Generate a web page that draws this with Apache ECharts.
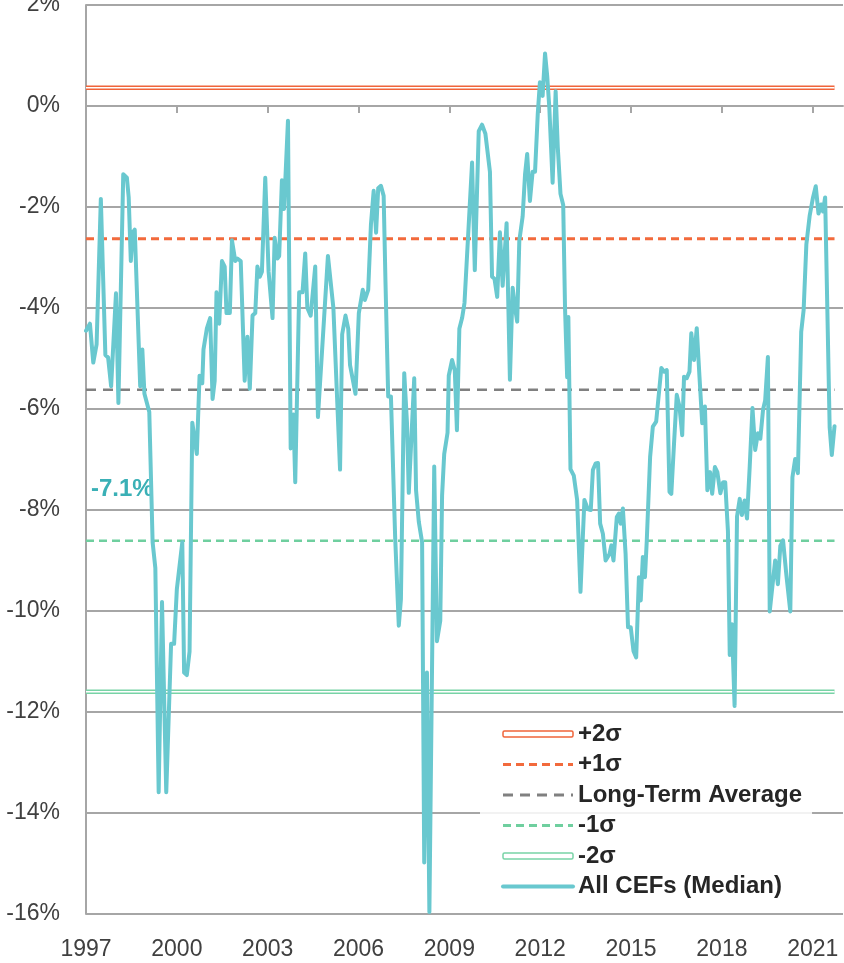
<!DOCTYPE html>
<html>
<head>
<meta charset="utf-8">
<script src="https://cdn.jsdelivr.net/npm/echarts@6.0.0/dist/echarts.min.js"></script>
<style>
  html, body { margin: 0; padding: 0; background: #fff; }
  #chart { width: 844px; height: 963px; }
</style>
</head>
<body>
<div id="chart"></div>
<script>
// median CEF discount (decimal year, %)
const years = [
  1997.00, 1997.13, 1997.24, 1997.35, 1997.49, 1997.64, 1997.73, 1997.83, 1997.99, 1998.07,
  1998.23, 1998.35, 1998.41, 1998.48, 1998.54, 1998.61, 1998.79, 1998.86, 1998.93, 1999.09,
  1999.20, 1999.29, 1999.40, 1999.51, 1999.65, 1999.81, 1999.91, 2000.00, 2000.18, 2000.24,
  2000.33, 2000.42, 2000.51, 2000.66, 2000.75, 2000.84, 2000.88, 2000.99, 2001.10, 2001.18,
  2001.25, 2001.31, 2001.40, 2001.49, 2001.58, 2001.64, 2001.75, 2001.82, 2001.93, 2002.00,
  2002.11, 2002.24, 2002.33, 2002.41, 2002.50, 2002.59, 2002.66, 2002.74, 2002.81, 2002.92,
  2003.03, 2003.16, 2003.23, 2003.32, 2003.38, 2003.47, 2003.54, 2003.60, 2003.67, 2003.76,
  2003.85, 2003.91, 2004.04, 2004.15, 2004.24, 2004.31, 2004.42, 2004.57, 2004.66, 2004.99,
  2005.17, 2005.39, 2005.46, 2005.57, 2005.66, 2005.72, 2005.90, 2006.01, 2006.14, 2006.21,
  2006.32, 2006.41, 2006.50, 2006.58, 2006.65, 2006.74, 2006.83, 2006.89, 2006.98, 2007.07,
  2007.21, 2007.33, 2007.40, 2007.51, 2007.60, 2007.66, 2007.84, 2007.90, 2007.99, 2008.10,
  2008.17, 2008.26, 2008.34, 2008.50, 2008.59, 2008.70, 2008.76, 2008.83, 2008.94, 2008.98,
  2009.09, 2009.18, 2009.25, 2009.33, 2009.42, 2009.50, 2009.75, 2009.84, 2009.97, 2010.08,
  2010.19, 2010.34, 2010.41, 2010.49, 2010.58, 2010.67, 2010.76, 2010.89, 2011.00, 2011.09,
  2011.17, 2011.24, 2011.31, 2011.42, 2011.50, 2011.57, 2011.66, 2011.75, 2011.83, 2011.92,
  2011.99, 2012.08, 2012.16, 2012.23, 2012.30, 2012.41, 2012.51, 2012.58, 2012.67, 2012.76,
  2012.82, 2012.89, 2012.93, 2013.00, 2013.11, 2013.22, 2013.33, 2013.46, 2013.57, 2013.67,
  2013.74, 2013.83, 2013.91, 2013.98, 2014.07, 2014.16, 2014.29, 2014.35, 2014.42, 2014.53,
  2014.60, 2014.66, 2014.73, 2014.82, 2014.90, 2014.99, 2015.08, 2015.17, 2015.26, 2015.32,
  2015.39, 2015.46, 2015.52, 2015.63, 2015.72, 2015.83, 2015.92, 2016.00, 2016.09, 2016.18,
  2016.27, 2016.33, 2016.42, 2016.51, 2016.60, 2016.69, 2016.75, 2016.84, 2016.93, 2016.99,
  2017.08, 2017.17, 2017.26, 2017.35, 2017.44, 2017.52, 2017.61, 2017.68, 2017.77, 2017.85,
  2017.95, 2018.04, 2018.11, 2018.20, 2018.26, 2018.33, 2018.42, 2018.50, 2018.59, 2018.66,
  2018.75, 2018.83, 2018.92, 2019.01, 2019.10, 2019.19, 2019.27, 2019.36, 2019.43, 2019.52,
  2019.58, 2019.67, 2019.76, 2019.85, 2019.93, 2020.02, 2020.13, 2020.26, 2020.33, 2020.42,
  2020.51, 2020.62, 2020.70, 2020.79, 2020.90, 2021.01, 2021.10, 2021.19, 2021.28, 2021.34,
  2021.41, 2021.56, 2021.63, 2021.72
]
const discount = [
  -4.45, -4.31, -5.08, -4.72, -1.84, -4.93, -4.98, -5.55, -3.71, -5.88,
  -1.35, -1.42, -1.81, -3.07, -2.51, -2.45, -5.55, -4.82, -5.70, -6.06,
  -8.64, -9.15, -13.59, -9.82, -13.59, -10.65, -10.65, -9.57, -8.64, -11.22,
  -11.27, -10.80, -6.27, -6.89, -5.34, -5.49, -4.82, -4.41, -4.20, -5.80,
  -5.44, -3.69, -4.31, -3.07, -3.18, -4.10, -4.10, -2.66, -3.07, -3.02,
  -3.07, -5.44, -4.57, -5.60, -4.15, -4.10, -3.18, -3.38, -3.28, -1.42,
  -3.28, -4.20, -2.61, -3.02, -2.97, -1.47, -2.04, -2.04, -0.29, -6.78,
  -6.11, -7.45, -3.69, -3.69, -2.92, -4.00, -4.15, -3.18, -6.16, -2.97,
  -4.00, -7.20, -4.52, -4.15, -4.41, -5.13, -5.70, -4.10, -3.64, -3.84,
  -3.64, -2.35, -1.68, -2.51, -1.63, -1.58, -1.78, -3.48, -5.75, -5.75,
  -8.54, -10.29, -9.77, -5.29, -6.27, -7.66, -5.39, -7.61, -8.23, -8.64,
  -14.98, -11.22, -15.96, -7.14, -10.60, -10.19, -7.71, -6.89, -6.47, -5.34,
  -5.03, -5.24, -6.42, -4.41, -4.20, -3.90, -1.12, -3.25, -0.50, -0.37,
  -0.55, -1.30, -3.38, -3.42, -3.78, -2.50, -3.56, -2.32, -5.42, -3.60,
  -4.00, -4.27, -2.67, -2.19, -1.35, -0.95, -1.88, -1.30, -1.30, -0.15,
  0.47, 0.20, 1.04, 0.60, -0.02, -1.52, 0.29, -0.81, -1.74, -1.96,
  -4.00, -5.37, -4.18, -7.19, -7.32, -7.80, -9.62, -7.80, -7.98, -8.00,
  -7.21, -7.08, -7.07, -8.27, -8.47, -9.00, -8.87, -8.70, -9.00, -8.14,
  -8.07, -8.27, -7.97, -8.87, -10.32, -10.32, -10.79, -10.92, -9.33, -9.79,
  -8.93, -9.33, -8.60, -6.95, -6.35, -6.25, -5.69, -5.19, -5.26, -5.23,
  -7.64, -7.68, -6.68, -5.72, -5.95, -6.52, -5.36, -5.39, -5.26, -4.50,
  -5.03, -4.40, -5.36, -6.28, -5.95, -7.61, -7.25, -7.68, -7.15, -7.25,
  -7.67, -7.45, -7.45, -8.42, -10.87, -10.26, -11.88, -8.13, -7.78, -8.10,
  -7.81, -8.17, -7.13, -5.98, -6.81, -6.48, -6.59, -6.01, -5.83, -4.97,
  -10.01, -9.50, -9.00, -9.47, -8.71, -8.60, -9.29, -10.01, -7.35, -6.99,
  -7.27, -4.47, -4.04, -2.74, -2.17, -1.81, -1.59, -2.13, -1.95, -2.09,
  -1.81, -6.37, -6.91, -6.34
]

// reference levels
const bandNames = ['+2σ', '+1σ', 'Long-Term Average', '-1σ', '-2σ']
const bandValues = [0.36, -2.63, -5.62, -8.61, -11.60]
const mainName = 'All CEFs (Median)'
const latestLabel = '-7.1%'

const xLabelYears = [1997, 2000, 2003, 2006, 2009, 2012, 2015, 2018, 2021]
const xTickYears = [2000, 2003, 2006, 2009, 2012, 2015, 2018, 2021]

const labelFont = "'Liberation Sans', Arial, sans-serif"
const orange = '#f0643a'
const orangeDash = '#f26a3c'
const gray = '#808080'
const greenDash = '#6fcf9f'
const green = '#78d3a6'
const teal = '#69c8cf'
const gridGray = '#a6a6a6'

const myChart = echarts.init(document.getElementById('chart'), null, { renderer: 'canvas' })

const first = years[0]
const last = years[years.length - 1]
const flat = v => [[first, v], [last, v]]

const series = [
  // +2σ double line
  { name: bandNames[0], type: 'line', symbol: 'none', color: orange, data: flat(bandValues[0]),
    lineStyle: { color: orange, width: 4.5 }, z: 2 },
  { name: 'inner+2', type: 'line', symbol: 'none', color: '#fff', data: flat(bandValues[0]),
    lineStyle: { color: '#fff', width: 1.5 }, z: 3, silent: true },
  { name: bandNames[1], type: 'line', symbol: 'none', color: orangeDash, data: flat(bandValues[1]),
    lineStyle: { color: orangeDash, width: 3, type: [8, 5] }, z: 2 },
  { name: bandNames[2], type: 'line', symbol: 'none', color: gray, data: flat(bandValues[2]),
    lineStyle: { color: gray, width: 2.5, type: [10, 7] }, z: 2 },
  { name: bandNames[3], type: 'line', symbol: 'none', color: greenDash, data: flat(bandValues[3]),
    lineStyle: { color: greenDash, width: 2.5, type: [8, 5] }, z: 2 },
  // -2σ double line
  { name: bandNames[4], type: 'line', symbol: 'none', color: green, data: flat(bandValues[4]),
    lineStyle: { color: green, width: 4.5 }, z: 2 },
  { name: 'inner-2', type: 'line', symbol: 'none', color: '#fff', data: flat(bandValues[4]),
    lineStyle: { color: '#fff', width: 1.5 }, z: 3, silent: true },
  { name: mainName, type: 'line', symbol: 'none', color: teal,
    data: years.map((y, i) => [y, discount[i]]),
    lineStyle: { color: teal, width: 4, join: 'round', cap: 'round' }, z: 5 }
]

const noDot = { opacity: 0 }

const option = {
  animation: false,
  backgroundColor: '#fff',
  grid: { left: 86, right: 1, top: 5, bottom: 49, containLabel: false, outerBoundsMode: 'none' },
  xAxis: [
    {
      type: 'value', min: 1997, max: 2022, interval: 3, position: 'bottom',
      axisLine: { show: false, onZero: false },
      axisTick: { show: false },
      splitLine: { show: false },
      axisLabel: {
        customValues: xLabelYears,
        formatter: v => String(v),
        color: '#404040', fontSize: 23, fontFamily: labelFont, margin: 24
      }
    },
    {
      type: 'value', min: 1997, max: 2022, interval: 3, position: 'bottom',
      axisLine: { show: true, onZero: true, lineStyle: { color: gridGray, width: 2 } },
      axisTick: { show: true, customValues: xTickYears, length: 7, lineStyle: { color: gridGray, width: 2 } },
      axisLabel: { show: false },
      splitLine: { show: false }
    }
  ],
  yAxis: {
    type: 'value', min: -16, max: 2, interval: 2,
    axisLine: { show: true, onZero: false, lineStyle: { color: gridGray, width: 2 } },
    axisTick: { show: false },
    splitLine: { show: true, lineStyle: { color: gridGray, width: 2 } },
    axisLabel: {
      formatter: v => v + '%',
      color: '#404040', fontSize: 23, fontFamily: labelFont, margin: 26
    }
  },
  legend: {
    orient: 'vertical',
    left: 480, top: 715,
    padding: [6, 10, 6, 21],
    backgroundColor: 'rgba(255,255,255,0.85)',
    itemWidth: 70, itemHeight: 6, itemGap: 4.5,
    textStyle: { fontFamily: labelFont, fontWeight: 'bold', fontSize: 24, color: '#262626', lineHeight: 26 },
    data: [
      { name: bandNames[0], icon: 'roundRect', itemStyle: { color: '#fff', borderColor: orange, borderWidth: 1.5 } },
      { name: bandNames[1], itemStyle: noDot, lineStyle: { width: 3 } },
      { name: bandNames[2], itemStyle: noDot, lineStyle: { width: 3 } },
      { name: bandNames[3], itemStyle: noDot, lineStyle: { width: 3 } },
      { name: bandNames[4], icon: 'roundRect', itemStyle: { color: '#fff', borderColor: green, borderWidth: 1.5 } },
      { name: mainName, itemStyle: noDot, lineStyle: { width: 4 } }
    ],
    selectedMode: false
  },
  graphic: [
    {
      type: 'text', left: 91, top: 477,
      style: { text: latestLabel, fill: '#3ab0b6', font: "bold 24px 'Liberation Sans', sans-serif" }
    }
  ],
  series: series
}

myChart.setOption(option)
</script>
</body>
</html>
